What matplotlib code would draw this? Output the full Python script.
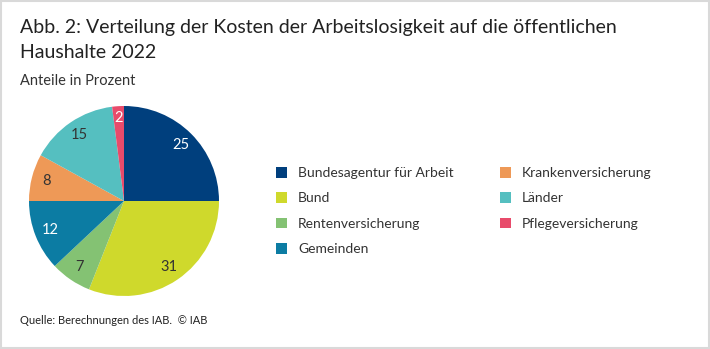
import matplotlib.pyplot as plt
from matplotlib.patches import Rectangle, Patch
import numpy as np

plt.rcParams['font.family'] = ['Lato', 'DejaVu Sans']

labels = ["Bundesagentur für Arbeit", "Bund", "Rentenversicherung", "Gemeinden",
          "Krankenversicherung", "Länder", "Pflegeversicherung"]
values = [25, 31, 7, 12, 8, 15, 2]
colors = ["#003f7d", "#cfd92c", "#84c273", "#0c7ca3", "#ee9957", "#55bfc0", "#e84b6b"]
text_colors = ["white", "#333333", "#333333", "white", "#333333", "#333333", "white"]

W, H = 710, 349
fig = plt.figure(figsize=(W / 100, H / 100), dpi=100)
fig.patch.set_facecolor("white")
fig.patches.append(Rectangle((0.002, 0.003), 0.996, 0.994, transform=fig.transFigure,
                             fill=False, edgecolor="#d9d9d9", linewidth=1.5))

# pie: centre (124, 201), radius 95 px
cx, cy, r = 124, 201, 95
ax = fig.add_axes([(cx - r) / W, (H - cy - r) / H, 2 * r / W, 2 * r / H])
wedges, _ = ax.pie(values, colors=colors, startangle=90, counterclock=False,
                   wedgeprops=dict(linewidth=0), radius=1)
ax.set_xlim(-1, 1)
ax.set_ylim(-1, 1)
ax.set_aspect("auto")
for w, v, tc in zip(wedges, values, text_colors):
    mid = np.deg2rad((w.theta1 + w.theta2) / 2)
    d = 0.88 if v < 5 else 0.84
    ax.text(d * np.cos(mid), d * np.sin(mid), str(v), ha="center", va="center",
            color=tc, fontsize=10.5)
ax.axis("off")

fig.text(20 / W, 1 - 28 / H, "Abb. 2: Verteilung der Kosten der Arbeitslosigkeit auf die öffentlichen",
         fontsize=14, color="#222222", va="center")
fig.text(20 / W, 1 - 53 / H, "Haushalte 2022", fontsize=14, color="#222222", va="center")
fig.text(20 / W, 1 - 81 / H, "Anteile in Prozent", fontsize=10.5, color="#333333", va="center")
fig.text(20 / W, 1 - 320 / H, "Quelle: Berechnungen des IAB.  © IAB", fontsize=8, color="#222222", va="center")

handles = [Patch(facecolor=c, edgecolor="none") for c in colors]
fig.legend(handles, labels, ncol=2, loc="upper left", bbox_to_anchor=(276 / W, 1 - 167 / H),
           frameon=False, fontsize=10, handlelength=0.8, handleheight=0.8,
           handletextpad=0.8, labelspacing=0.95, columnspacing=3.3, labelcolor="#333333",
           borderpad=0, borderaxespad=0)

fig.savefig("out.png", dpi=100, facecolor="white")
